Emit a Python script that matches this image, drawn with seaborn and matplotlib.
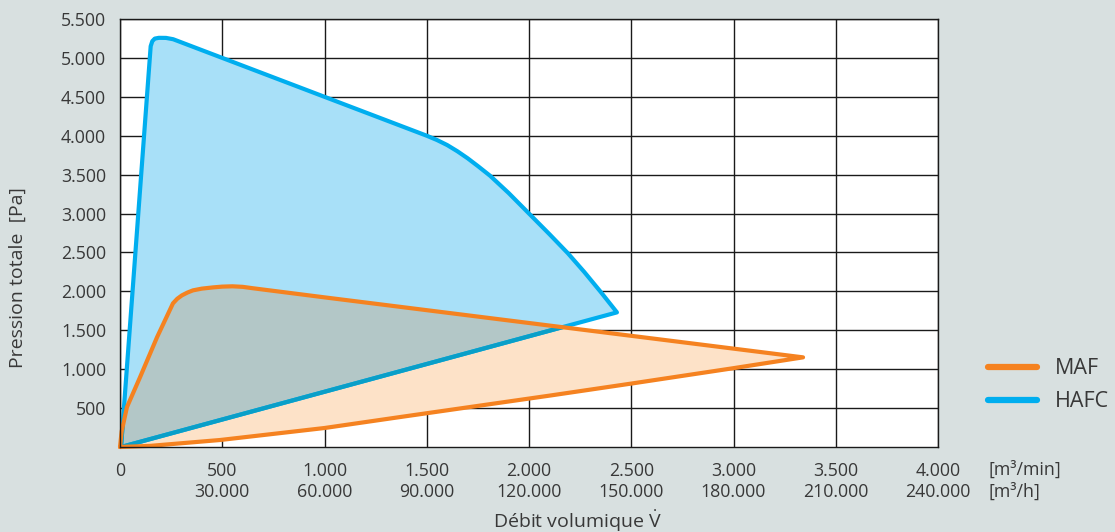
import matplotlib
matplotlib.use("Agg")
import matplotlib.pyplot as plt
from matplotlib.patches import Polygon
from matplotlib.lines import Line2D
import numpy as np
import pandas as pd
import seaborn as sns

# Operating envelopes: volume flow [m³/min] vs total pressure [Pa]
hafc_flow = [5, 150, 158, 170, 190, 225, 260, 1000, 1500, 1550, 1600, 1650, 1700, 1750, 1810,
             1900, 2000, 2100, 2190, 2270, 2350, 2430, 5]
hafc_pressure = [0, 5150, 5215, 5248, 5258, 5257, 5240, 4500, 4000, 3945, 3880, 3800, 3710,
                 3610, 3485, 3265, 3000, 2735, 2490, 2250, 1995, 1730, 0]

maf_flow = [0, 8, 34, 98, 181, 259, 280, 303, 330, 357, 400, 455, 500, 550, 600, 650, 1000, 3340,
            3000, 2500, 2100, 1370, 1000, 490, 150, 0]
maf_pressure = [0, 200, 513, 897, 1410, 1846, 1905, 1949, 1985, 2013, 2035, 2051, 2061, 2065,
                2058, 2040, 1923, 1152,
                1013, 815, 660, 385, 244, 90, 15, 0]

flow_ticks = [0, 500, 1000, 1500, 2000, 2500, 3000, 3500, 4000]
flow_labels = ["0", "500\n30.000", "1.000\n60.000", "1.500\n90.000", "2.000\n120.000",
               "2.500\n150.000", "3.000\n180.000", "3.500\n210.000", "4.000\n240.000"]
pressure_ticks = [500, 1000, 1500, 2000, 2500, 3000, 3500, 4000, 4500, 5000, 5500]
pressure_labels = ["500", "1.000", "1.500", "2.000", "2.500", "3.000", "3.500",
                   "4.000", "4.500", "5.000", "5.500"]

series_names = ["MAF", "HAFC"]

ORANGE = "#f58220"
BLUE = "#00aeef"
ORANGE_FILL = "#fde2c8"
BLUE_FILL = "#a8e0f8"
OVERLAP_FILL = "#b3c7c7"
BLUE_UNDER = "#0a9fc8"
BG = "#d8e0e0"
TEXT = "#383838"
TICK_FS = 12.8

sns.set_theme(style="white")
plt.rcParams["font.family"] = ["Open Sans", "DejaVu Sans"]
plt.rcParams["mathtext.fontset"] = "custom"
plt.rcParams["mathtext.rm"] = "Open Sans"

fig = plt.figure(figsize=(11.15, 5.32), dpi=100, facecolor=BG)
ax = fig.add_axes([120 / 1115, 85 / 532, 818 / 1115, 428 / 532])
ax.set_facecolor("white")

hafc_df = pd.DataFrame({"flow": hafc_flow, "pressure": hafc_pressure})
maf_df = pd.DataFrame({"flow": maf_flow, "pressure": maf_pressure})

# Filled envelopes, with the shared region in its own tint
blue_patch = Polygon(np.column_stack([hafc_flow, hafc_pressure]), closed=True,
                     facecolor=BLUE_FILL, edgecolor="none", zorder=1)
ax.add_patch(blue_patch)
orange_patch = Polygon(np.column_stack([maf_flow, maf_pressure]), closed=True,
                       facecolor=ORANGE_FILL, edgecolor="none", zorder=1.1)
ax.add_patch(orange_patch)
overlap = Polygon(np.column_stack([maf_flow, maf_pressure]), closed=True,
                  facecolor=OVERLAP_FILL, edgecolor="none", zorder=1.2)
ax.add_patch(overlap)
overlap.set_clip_path(blue_patch)

# Grid
ax.set_xlim(0, 4000)
ax.set_ylim(0, 5500)
ax.set_xticks(flow_ticks)
ax.set_yticks(pressure_ticks)
ax.grid(True, color="#1a1a1a", linewidth=1.0)
for line in ax.get_xgridlines() + ax.get_ygridlines():
    line.set_zorder(2)

# Outlines
sns.lineplot(data=hafc_df, x="flow", y="pressure", sort=False, estimator=None,
             color=BLUE, linewidth=3, ax=ax, zorder=3)
sns.lineplot(data=hafc_df, x="flow", y="pressure", sort=False, estimator=None,
             color=BLUE_UNDER, linewidth=3, ax=ax, zorder=3.1)
under_line = ax.lines[-1]
sns.lineplot(data=maf_df, x="flow", y="pressure", sort=False, estimator=None,
             color=ORANGE, linewidth=3, ax=ax, zorder=4)
for ln in ax.lines:
    ln.set_solid_joinstyle("round")
    ln.set_solid_capstyle("round")
    ln.set_clip_on(False)

# Blue outline takes a darker tone where it runs beneath the MAF area
under_mask = Polygon(np.column_stack([maf_flow, maf_pressure]), closed=True,
                     facecolor="none", edgecolor="none")
ax.add_patch(under_mask)
under_line.set_clip_on(True)
under_line.set_clip_path(under_mask)

ax.set_xticklabels(flow_labels, fontsize=TICK_FS, color=TEXT, linespacing=1.2)
ax.set_yticklabels(pressure_labels, fontsize=TICK_FS, color=TEXT)
ax.tick_params(axis="x", direction="out", length=5, width=1, color="#1a1a1a", pad=6)
ax.tick_params(axis="y", direction="out", length=4, width=1, color="#1a1a1a", pad=6)
for lab in ax.get_xticklabels():
    lab.set_horizontalalignment("center")
for s in ax.spines.values():
    s.set_color("#1a1a1a")
    s.set_linewidth(1.0)
    s.set_zorder(5)
ax.set_xlabel("")
ax.set_ylabel("")

# Unit labels for the two flow scales
fig.text(988 / 1115, 1 - 470 / 532, "[m³/min]", fontsize=TICK_FS, color=TEXT,
         ha="left", va="center")
fig.text(988 / 1115, 1 - 492 / 532, "[m³/h]", fontsize=TICK_FS, color=TEXT,
         ha="left", va="center")

# Axis titles
fig.text(577 / 1115, 1 - 521 / 532, r"Débit volumique $\dot{\mathrm{V}}$", fontsize=14,
         color=TEXT, ha="center", va="center")
fig.text(18 / 1115, 1 - 278 / 532, "Pression totale  [Pa]", fontsize=14, color=TEXT,
         ha="center", va="center", rotation=90)

# Legend
handles = [Line2D([0], [0], color=ORANGE, linewidth=4.5),
           Line2D([0], [0], color=BLUE, linewidth=4.5)]
fig.legend(handles, series_names, loc="upper left",
           bbox_to_anchor=(969 / 1115, 1 - 339 / 532), frameon=False,
           fontsize=15.5, handlelength=2.28, handletextpad=0.79, labelspacing=0.55,
           labelcolor=TEXT)

fig.savefig("out.png", dpi=100, facecolor=BG)
